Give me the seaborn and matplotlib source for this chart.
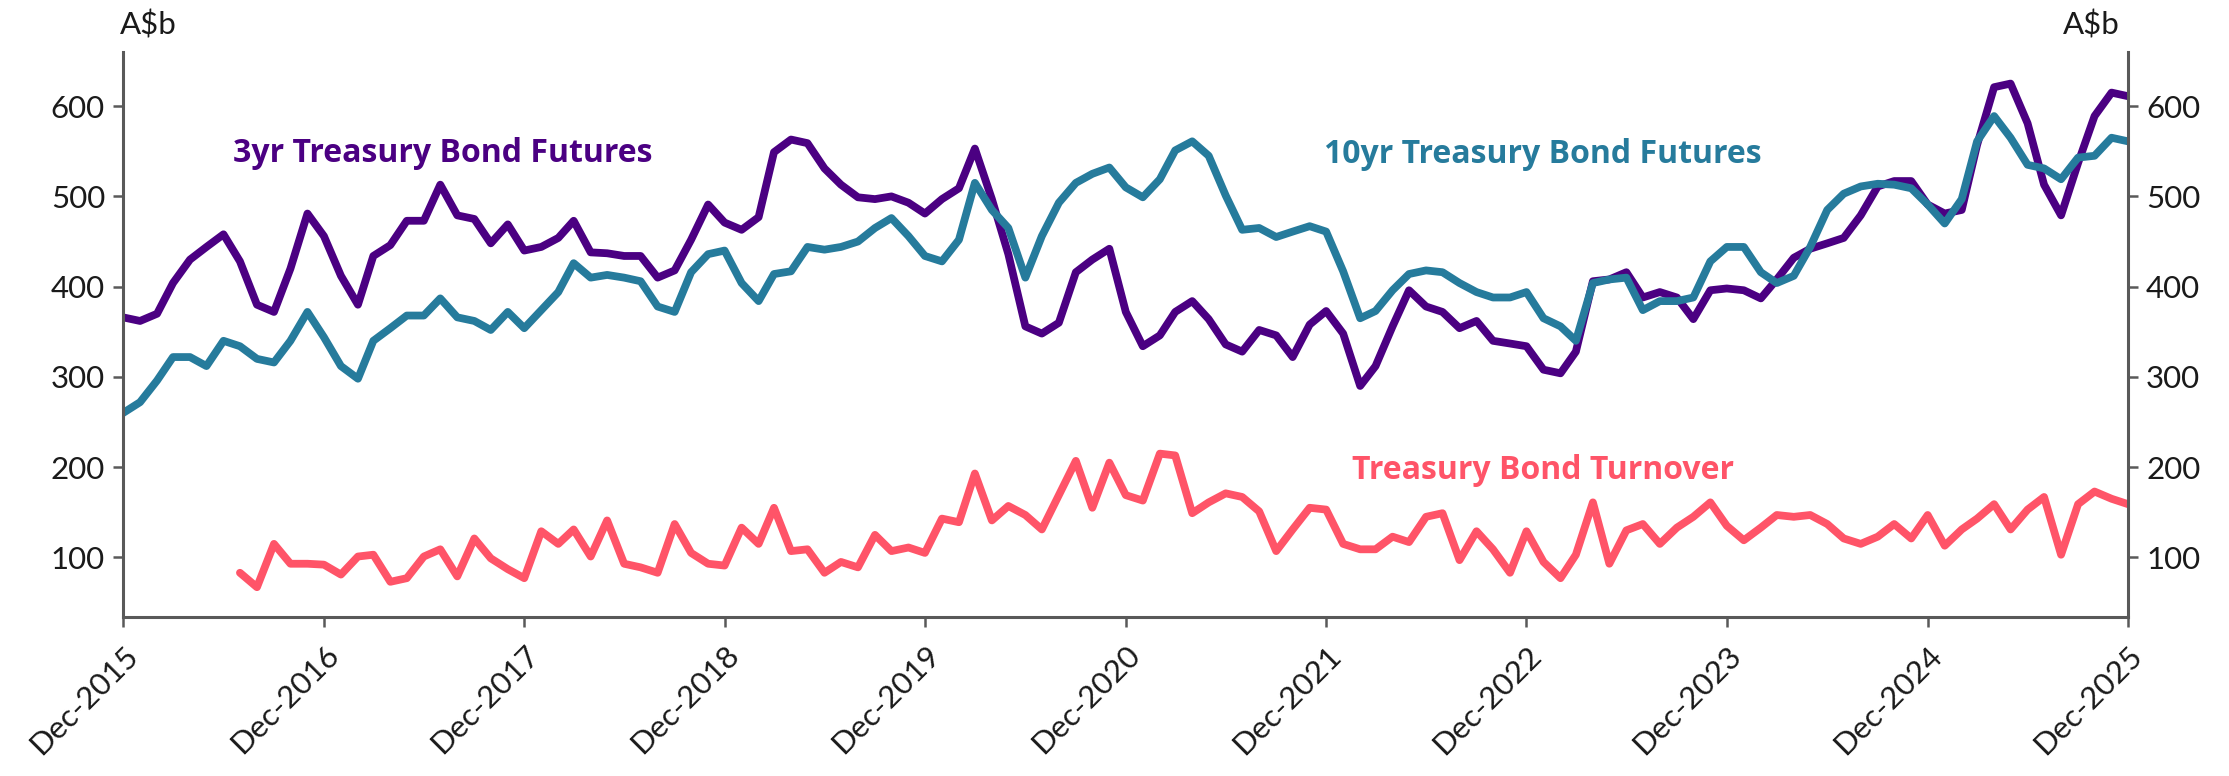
import pandas as pd
import numpy as np
import seaborn as sns
import matplotlib.pyplot as plt
import matplotlib.dates as mdates

# Monthly values, A$b
months = pd.date_range("2015-12-01", "2025-12-01", freq="MS")

three_yr = [
    366, 362, 370, 404, 430, 444, 458, 428, 380, 372,
    420, 481, 456, 412, 380, 434, 446, 473, 473, 513,
    479, 475, 448, 469, 440, 444, 454, 473, 438, 437,
    434, 434, 410, 418, 452, 491, 471, 463, 477, 549,
    563, 559, 531, 513, 499, 497, 500, 493, 481, 497,
    509, 553, 497, 436, 356, 348, 360, 416, 430, 442,
    372, 334, 346, 372, 384, 364, 336, 328, 352, 346,
    322, 358, 373, 348, 290, 312, 356, 396, 378, 372,
    354, 362, 340, 337, 334, 308, 304, 328, 406, 408,
    416, 388, 394, 388, 364, 396, 398, 396, 387, 408,
    432, 442, 448, 454, 479, 511, 517, 517, 491, 481,
    485, 557, 621, 625, 581, 513, 479, 537, 589, 615,
    611,
]

ten_yr = [
    260, 272, 296, 322, 322, 312, 340, 334, 320, 316,
    340, 372, 344, 312, 298, 340, 354, 368, 368, 387,
    366, 362, 352, 372, 354, 374, 394, 426, 410, 413,
    410, 406, 378, 372, 416, 436, 440, 404, 384, 414,
    417, 444, 441, 444, 450, 465, 476, 456, 434, 428,
    452, 515, 485, 465, 410, 456, 493, 515, 525, 532,
    510, 499, 519, 551, 561, 545, 501, 463, 465, 455,
    461, 467, 461, 417, 365, 373, 396, 414, 418, 416,
    404, 394, 388, 388, 394, 365, 356, 340, 404, 408,
    410, 374, 384, 384, 388, 428, 444, 444, 416, 404,
    412, 444, 485, 503, 511, 514, 513, 509, 491, 470,
    497, 561, 589, 565, 535, 531, 519, 543, 545, 565,
    561,
]

# turnover series starts in Jul-2016
turnover_months = pd.date_range("2016-07-01", "2025-12-01", freq="MS")
turnover = [
    83, 67, 115, 93, 93, 92, 81, 101, 103, 73, 77, 101, 109,
    79, 121, 99, 87, 77, 129, 115, 131, 101, 141,
    93, 89, 83, 137, 105, 93, 91, 133, 115, 155,
    107, 109, 83, 95, 89, 125, 107, 111, 105, 143,
    139, 193, 141, 157, 147, 131, 169, 207, 155, 205,
    169, 163, 215, 213, 149, 161, 171, 167, 151, 107,
    131, 155, 153, 115, 109, 109, 123, 117, 145, 149,
    97, 129, 109, 83, 129, 95, 77, 103, 161, 93,
    130, 137, 115, 133, 145, 161, 135, 119, 133, 147,
    145, 147, 137, 121, 115, 123, 137, 121, 147, 113,
    131, 143, 159, 131, 153, 167, 103, 159, 173, 165,
    159,
]

y_ticks = [100, 200, 300, 400, 500, 600]

purple = "#4B0082"
teal = "#267B9C"
red = "#FF5468"

sns.set_style("white")
plt.rcParams["font.family"] = ["Lato", "DejaVu Sans"]

fig = plt.figure(figsize=(22.29, 7.76), dpi=100)
ax = fig.add_axes([0.0552, 0.2049, 0.8995, 0.7281])

futures = pd.DataFrame({"month": months, "3yr": three_yr, "10yr": ten_yr})
turn_df = pd.DataFrame({"month": turnover_months, "turnover": turnover})

line_kw = dict(lw=5.6, solid_joinstyle="round", solid_capstyle="round")
sns.lineplot(data=futures, x="month", y="3yr", color=purple, ax=ax, **line_kw)
sns.lineplot(data=futures, x="month", y="10yr", color=teal, ax=ax, **line_kw)
sns.lineplot(data=turn_df, x="month", y="turnover", color=red, ax=ax, **line_kw)

ax.set_xlim(months[0], months[-1])
ax.set_ylim(34, 660)
ax.set_yticks(y_ticks)
ax.set_xlabel("")
ax.set_ylabel("")

ax.xaxis.set_major_locator(mdates.MonthLocator(bymonth=12, bymonthday=1))
ax.xaxis.set_major_formatter(mdates.DateFormatter("%b-%Y"))

spine_col = "#595959"
for side in ["left", "right", "bottom"]:
    ax.spines[side].set_visible(True)
    ax.spines[side].set_color(spine_col)
    ax.spines[side].set_linewidth(2.2)
ax.spines["top"].set_visible(False)

ax.tick_params(axis="both", direction="out", length=7, width=1.8, color=spine_col,
               labelsize=22.5, labelcolor="#1a1a1a", pad=6)
ax.tick_params(axis="y", left=True, right=True, labelleft=True, labelright=True)
ax.tick_params(axis="x", bottom=True, pad=10)
for lab in ax.get_xticklabels():
    lab.set_rotation(45)
    lab.set_ha("right")
    lab.set_rotation_mode("anchor")

# units
fig.text(120 / 2229, 1 - 25 / 776, "A$b", fontsize=22.5, color="#1a1a1a", ha="left", va="center")
fig.text(2120 / 2229, 1 - 25 / 776, "A$b", fontsize=22.5, color="#1a1a1a", ha="right", va="center")

# series labels
lab_font = ["Open Sans", "DejaVu Sans"]
ax.text(0.0548, 0.821, "3yr Treasury Bond Futures", transform=ax.transAxes, family=lab_font,
        color=purple, fontsize=23, fontweight="bold", ha="left", va="center")
ax.text(0.599, 0.819, "10yr Treasury Bond Futures", transform=ax.transAxes, family=lab_font,
        color=teal, fontsize=23, fontweight="bold", ha="left", va="center")
ax.text(0.613, 0.260, "Treasury Bond Turnover", transform=ax.transAxes, family=lab_font,
        color=red, fontsize=23, fontweight="bold", ha="left", va="center")

fig.savefig("out.png", dpi=100)
